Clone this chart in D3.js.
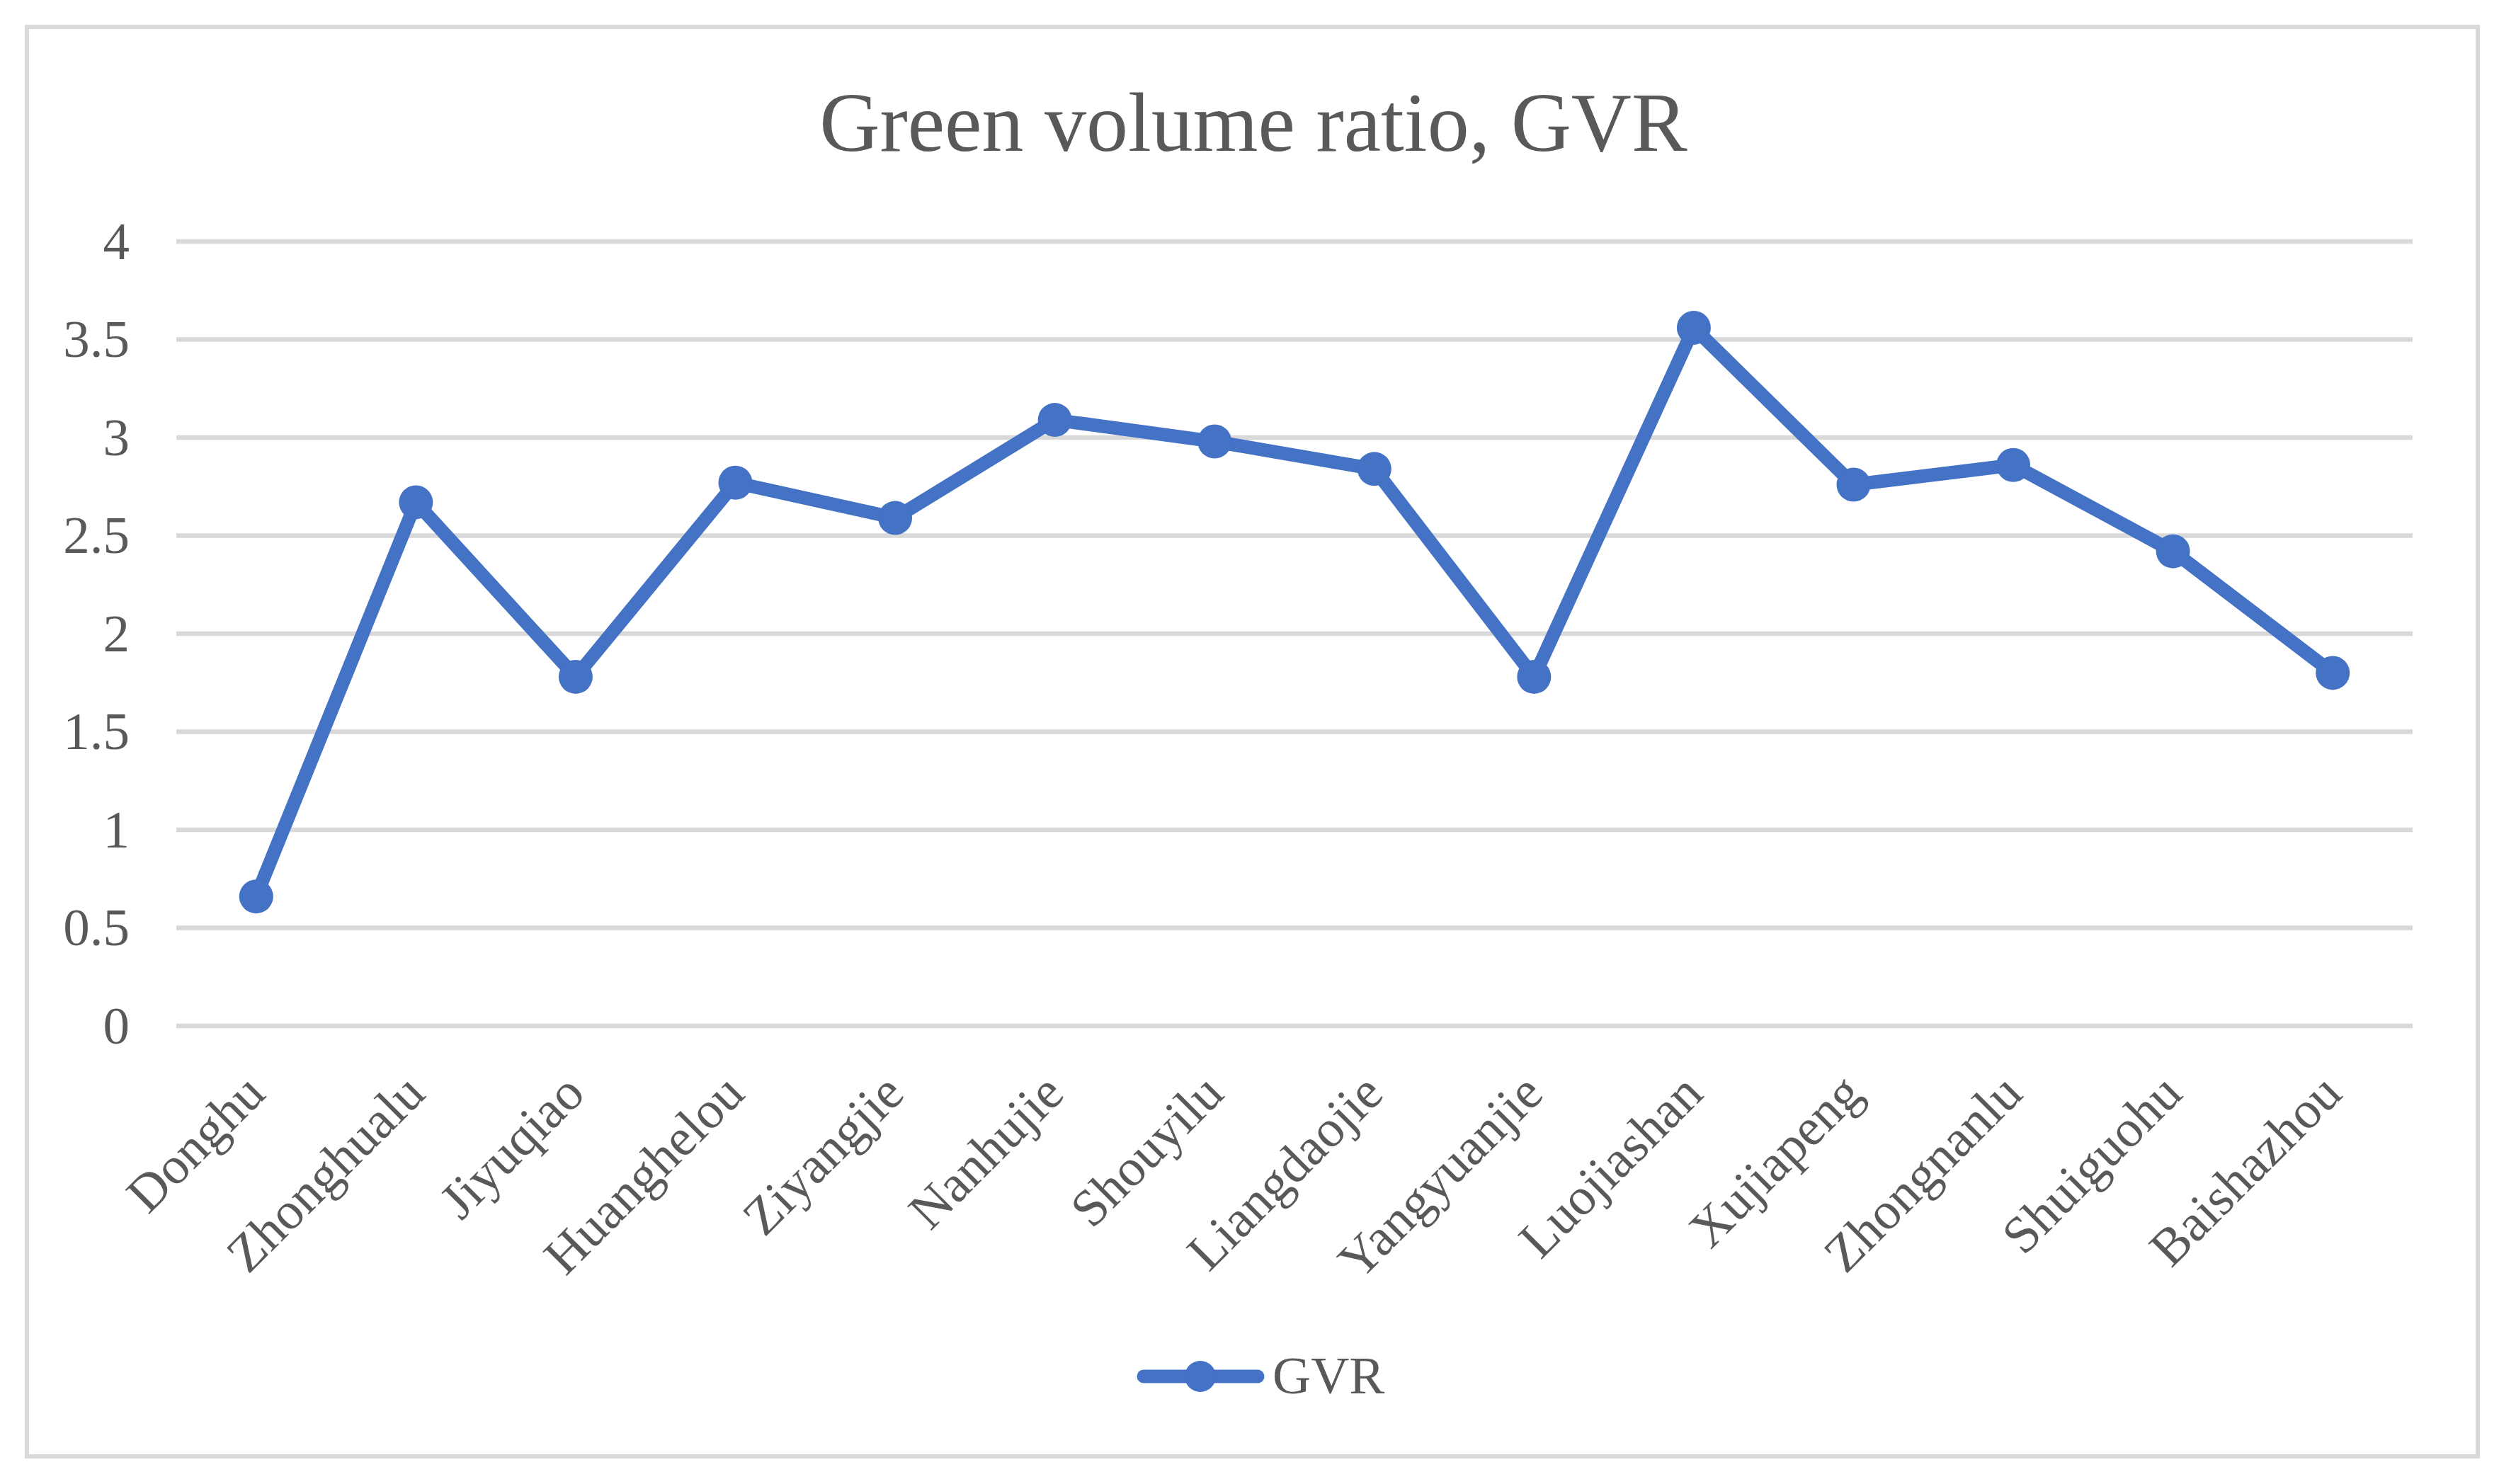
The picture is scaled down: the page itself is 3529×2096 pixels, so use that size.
<!DOCTYPE html>
<html>
<head>
<meta charset="utf-8">
<script src="https://cdn.jsdelivr.net/npm/d3@7"></script>
<style>
  body { margin: 0; background: #fff; }
  text { font-family: "Times New Roman", "Liberation Serif", serif; fill: #595959; }
</style>
</head>
<body>
<script>
const categories = ["Donghu", "Zhonghualu", "Jiyuqiao", "Huanghelou", "Ziyangjie", "Nanhujie", "Shouyilu",
    "Liangdaojie", "Yangyuanjie", "Luojiashan", "Xujiapeng", "Zhongnanlu", "Shuiguohu", "Baishazhou"]
const gvrValues = [0.66, 2.67, 1.78, 2.77, 2.59, 3.09, 2.98, 2.84, 1.78, 3.56, 2.76, 2.86, 2.42, 1.80]
const yTicks = [0, 0.5, 1, 1.5, 2, 2.5, 3, 3.5, 4]
const seriesName = "GVR"
const chartTitle = "Green volume ratio, GVR"

const W = 3529, H = 2096
const blue = "#4472c4"

const svg = d3.select("body").append("svg")
    .attr("width", W)
    .attr("height", H)

// chart border
svg.append("rect")
    .attr("x", 38).attr("y", 38)
    .attr("width", 3461).attr("height", 2019)
    .attr("fill", "#fff")
    .attr("stroke", "#d9d9d9")
    .attr("stroke-width", 6)

// title
svg.append("text")
    .attr("x", 1770).attr("y", 213)
    .attr("text-anchor", "middle")
    .style("font-size", "118px")
    .text(chartTitle)

// scales
const x = d3.scaleBand().domain(categories).range([249, 3407])
const y = d3.scaleLinear().domain([0, 4]).range([1449, 341])

// gridlines
svg.append("g")
    .selectAll("line")
    .data(yTicks)
    .join("line")
    .attr("x1", 249).attr("x2", 3407)
    .attr("y1", d => y(d)).attr("y2", d => y(d))
    .attr("stroke", "#d9d9d9")
    .attr("stroke-width", 6.5)

// y axis labels
const yAxis = svg.append("g")
    .attr("transform", "translate(183,0)")
    .call(d3.axisLeft(y).tickValues(yTicks).tickSize(0).tickPadding(0).tickFormat(d3.format("")))
yAxis.select(".domain").remove()
yAxis.selectAll("text")
    .style("font-size", "75px")
    .attr("fill", "#595959")
    .style("font-family", "'Times New Roman', 'Liberation Serif', serif")

// x axis labels, rotated
const xAxis = svg.append("g")
    .attr("transform", "translate(0,1449)")
    .call(d3.axisBottom(x).tickSize(0))
xAxis.select(".domain").remove()
xAxis.selectAll("text")
    .style("font-size", "74px")
    .attr("fill", "#595959")
    .style("font-family", "'Times New Roman', 'Liberation Serif', serif")
    .attr("text-anchor", "end")
    .attr("dy", null)
    .attr("y", 0)
    .attr("transform", "translate(16,99) rotate(-45)")

// series line
const cx = d => x(d) + x.bandwidth() / 2
const data = categories.map((c, i) => ({ c, v: gvrValues[i] }))

svg.append("path")
    .datum(data)
    .attr("fill", "none")
    .attr("stroke", blue)
    .attr("stroke-width", 19)
    .attr("stroke-linejoin", "round")
    .attr("stroke-linecap", "round")
    .attr("d", d3.line().x(d => cx(d.c)).y(d => y(d.v)))

svg.append("g")
    .selectAll("circle")
    .data(data)
    .join("circle")
    .attr("cx", d => cx(d.c))
    .attr("cy", d => y(d.v))
    .attr("r", 24)
    .attr("fill", blue)

// legend
const legend = svg.append("g")
legend.append("line")
    .attr("x1", 1615).attr("x2", 1776)
    .attr("y1", 1944).attr("y2", 1944)
    .attr("stroke", blue)
    .attr("stroke-width", 19)
    .attr("stroke-linecap", "round")
legend.append("circle")
    .attr("cx", 1695).attr("cy", 1944)
    .attr("r", 22)
    .attr("fill", blue)
legend.append("text")
    .attr("x", 1797).attr("y", 1968)
    .style("font-size", "75px")
    .text(seriesName)
</script>
</body>
</html>
